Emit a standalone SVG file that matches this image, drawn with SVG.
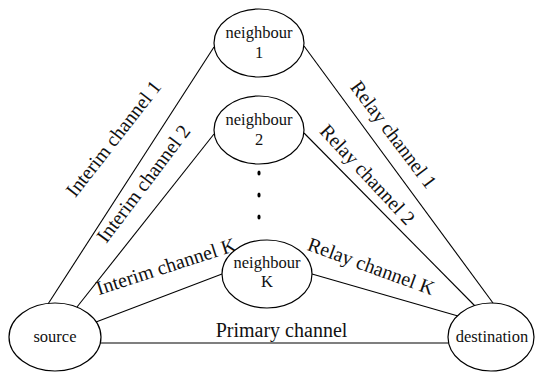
<svg xmlns="http://www.w3.org/2000/svg" width="535" height="373" viewBox="0 0 535 373">
<style>
.node{fill:#fff;stroke:#000;stroke-width:1.2}
.nl{font-family:"Liberation Serif","Times New Roman",serif;font-size:16.5px;fill:#111;text-anchor:middle}
.cl{font-family:"Liberation Serif","Times New Roman",serif;font-size:20px;fill:#111;text-anchor:middle}
.edge{stroke:#000;stroke-width:1.1;fill:none}
</style>
<rect width="535" height="373" fill="#fff"/>
<g id="connectors">
<line class="edge" x1="48" y1="304" x2="214" y2="47"/>
<line class="edge" x1="77" y1="307" x2="214" y2="134"/>
<line class="edge" x1="96" y1="322" x2="222" y2="274"/>
<line class="edge" x1="100" y1="343" x2="448" y2="343" stroke-width="1.4"/>
<line class="edge" x1="304" y1="46" x2="493" y2="303"/>
<line class="edge" x1="304" y1="133" x2="475" y2="306"/>
<line class="edge" x1="312" y1="274" x2="458" y2="316"/>
<text class="cl" transform="translate(118.7,142.7) rotate(-52)">Interim channel 1</text>
<text class="cl" transform="translate(148.8,187.6) rotate(-53)">Interim channel 2</text>
<text class="cl" transform="translate(168,272.7) rotate(-18)">Interim channel K</text>
<text class="cl" x="281.5" y="337">Primary channel</text>
<text class="cl" transform="translate(388.2,138.6) rotate(53)">Relay channel 1</text>
<text class="cl" transform="translate(362.6,179.1) rotate(47)">Relay channel 2</text>
<text class="cl" transform="translate(368.9,272.6) rotate(20)">Relay channel K</text>
</g>
<g id="neighbour1">
<ellipse class="node" cx="259" cy="43" rx="45" ry="34"/>
<text class="nl" x="259" y="38">neighbour</text>
<text class="nl" x="259" y="58">1</text>
</g>
<g id="neighbour2">
<ellipse class="node" cx="259" cy="130" rx="45" ry="34"/>
<text class="nl" x="259" y="125">neighbour</text>
<text class="nl" x="259" y="145">2</text>
</g>
<g id="dots">
<ellipse cx="259" cy="173" rx="1.6" ry="2.6" fill="#000"/>
<ellipse cx="259" cy="195" rx="1.6" ry="2.6" fill="#000"/>
<ellipse cx="259" cy="217" rx="1.6" ry="2.6" fill="#000"/>
</g>
<g id="neighbourK">
<ellipse class="node" cx="267" cy="274" rx="45" ry="34"/>
<text class="nl" x="267" y="268">neighbour</text>
<text class="nl" x="267" y="287">K</text>
</g>
<g id="source">
<ellipse class="node" cx="55" cy="337" rx="46" ry="34"/>
<text class="nl" x="55" y="342">source</text>
</g>
<g id="destination">
<ellipse class="node" cx="491" cy="337" rx="43" ry="34"/>
<text class="nl" x="492" y="342">destination</text>
</g>
</svg>
